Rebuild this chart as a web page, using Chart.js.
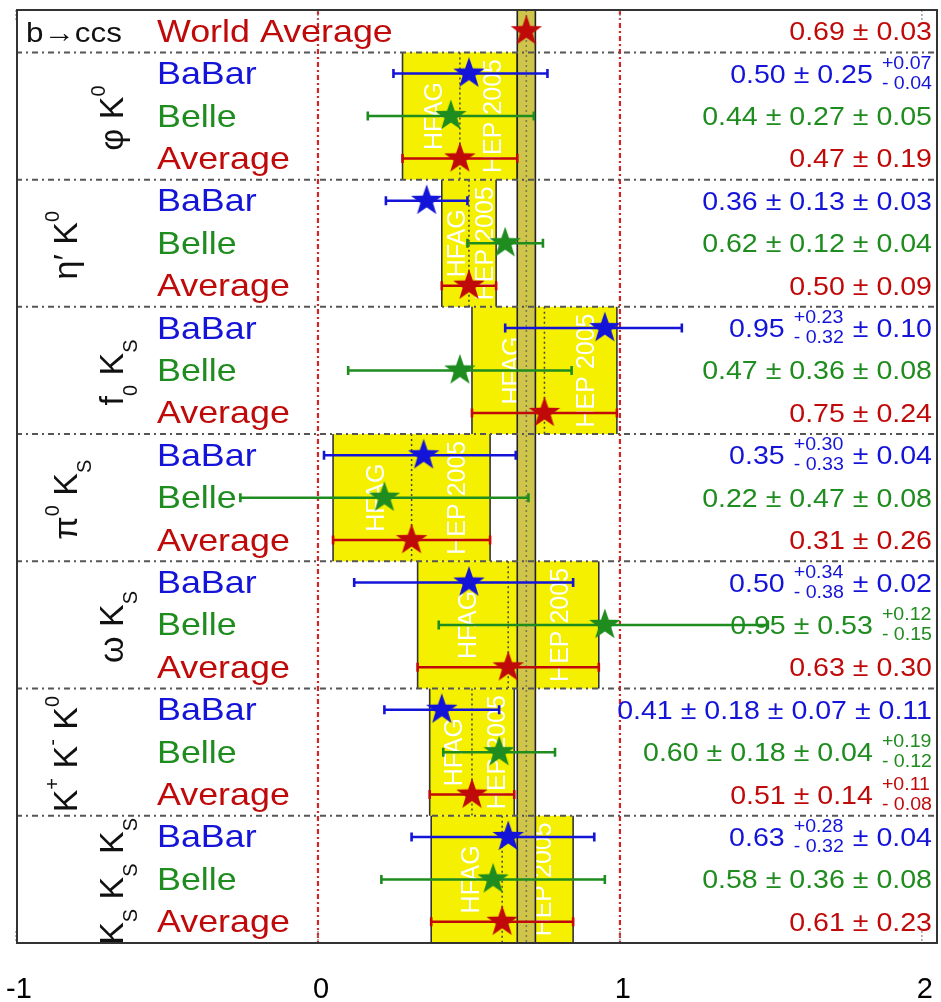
<!DOCTYPE html>
<html>
<head>
<meta charset="utf-8">
<script src="https://cdn.jsdelivr.net/npm/chart.js@4/dist/chart.umd.min.js"></script>
<style>
  html, body { margin: 0; padding: 0; background: #fff; overflow: hidden; }
  canvas { display: block; }
</style>
</head>
<body>
<canvas id="chart" width="941" height="1002"></canvas>
<script>
// rows from top to bottom
const rowLabels = ['World Average',
    'BaBar', 'Belle', 'Average',
    'BaBar', 'Belle', 'Average',
    'BaBar', 'Belle', 'Average',
    'BaBar', 'Belle', 'Average',
    'BaBar', 'Belle', 'Average',
    'BaBar', 'Belle', 'Average',
    'BaBar', 'Belle', 'Average'];
const rowKinds = ['world',
    'babar', 'belle', 'avg',
    'babar', 'belle', 'avg',
    'babar', 'belle', 'avg',
    'babar', 'belle', 'avg',
    'babar', 'belle', 'avg',
    'babar', 'belle', 'avg',
    'babar', 'belle', 'avg'];
const values   = [0.69, 0.50, 0.44, 0.47, 0.36, 0.62, 0.50, 0.95, 0.47, 0.75, 0.35, 0.22, 0.31, 0.50, 0.95, 0.63, 0.41, 0.60, 0.51, 0.63, 0.58, 0.61];
const errMinus = [0.03, 0.25, 0.275, 0.19, 0.135, 0.125, 0.09, 0.33, 0.37, 0.24, 0.33, 0.477, 0.26, 0.38, 0.55, 0.30, 0.19, 0.185, 0.14, 0.32, 0.37, 0.235];
const errPlus  = [0.03, 0.26, 0.275, 0.19, 0.135, 0.125, 0.09, 0.255, 0.37, 0.24, 0.305, 0.477, 0.26, 0.345, 0.54, 0.30, 0.19, 0.185, 0.14, 0.285, 0.37, 0.235];

// decay modes: first row of each group of three
const groupStart = [1, 4, 7, 10, 13, 16, 19];
const modeLabels = [
    [['φ K', ''], ['0', 'sup']],
    [['η′ K', ''], ['0', 'sup']],
    [['f', ''], ['0', 'sub'], [' K', ''], ['S', 'sub']],
    [['π', ''], ['0', 'sup'], [' K', ''], ['S', 'sub']],
    [['ω K', ''], ['S', 'sub']],
    [['K', ''], ['+', 'sup'], [' K', ''], ['-', 'sup'], [' K', ''], ['0', 'sup']],
    [['K', ''], ['S', 'sub'], [' K', ''], ['S', 'sub'], [' K', ''], ['S', 'sub']],
];

const valueTexts = [
    ['0.69 ± 0.03'],
    ['0.50 ± 0.25', ['+0.07', '- 0.04']],
    ['0.44 ± 0.27 ± 0.05'],
    ['0.47 ± 0.19'],
    ['0.36 ± 0.13 ± 0.03'],
    ['0.62 ± 0.12 ± 0.04'],
    ['0.50 ± 0.09'],
    ['0.95', ['+0.23', '- 0.32'], '± 0.10'],
    ['0.47 ± 0.36 ± 0.08'],
    ['0.75 ± 0.24'],
    ['0.35', ['+0.30', '- 0.33'], '± 0.04'],
    ['0.22 ± 0.47 ± 0.08'],
    ['0.31 ± 0.26'],
    ['0.50', ['+0.34', '- 0.38'], '± 0.02'],
    ['0.95 ± 0.53', ['+0.12', '- 0.15']],
    ['0.63 ± 0.30'],
    ['0.41 ± 0.18 ± 0.07 ± 0.11'],
    ['0.60 ± 0.18 ± 0.04', ['+0.19', '- 0.12']],
    ['0.51 ± 0.14', ['+0.11', '- 0.08']],
    ['0.63', ['+0.28', '- 0.32'], '± 0.04'],
    ['0.58 ± 0.36 ± 0.08'],
    ['0.61 ± 0.23'],
];
const tickValues = [-1, 0, 1, 2];
const refLines = [0, 1];

const colors = { world: '#c00a0a', babar: '#1414d8', belle: '#1e8c1e', avg: '#c00a0a' };
const FONT = '"Liberation Sans", Arial, Helvetica, sans-serif';
const SX = 1.12; // horizontal text stretch
const modeLabelX = [123, 77, 123, 77, 123, 77, 123];

function starImage(color) {
    const c = document.createElement('canvas');
    c.width = c.height = 36;
    const g = c.getContext('2d');
    g.beginPath();
    for (let k = 0; k < 10; k++) {
        const r = k % 2 ? 6.6 : 16.5;
        const ang = -Math.PI / 2 + k * Math.PI / 5;
        g.lineTo(18 + r * Math.cos(ang), 18 + r * Math.sin(ang));
    }
    g.closePath();
    g.fillStyle = color;
    g.fill();
    return c;
}

function hText(ctx, str, x, y, size, color) {
    ctx.save();
    ctx.font = `${size}px ${FONT}`;
    ctx.fillStyle = color;
    ctx.textBaseline = 'alphabetic';
    ctx.textAlign = 'left';
    ctx.translate(x, y);
    ctx.scale(SX, 1);
    ctx.fillText(str, 0, 0);
    ctx.restore();
}

function textWidth(ctx, str, size) {
    ctx.font = `${size}px ${FONT}`;
    return ctx.measureText(str).width * SX;
}

function drawValue(ctx, parts, right, cy, color) {
    const big = 25.5, small = 17.5, gap = 9;
    let xr = right;
    for (let p = parts.length - 1; p >= 0; p--) {
        const part = parts[p];
        if (typeof part === 'string') {
            const w = textWidth(ctx, part, big);
            hText(ctx, part, xr - w, cy + 9, big, color);
            xr -= w + gap;
        } else {
            const w = Math.max(textWidth(ctx, part[0], small), textWidth(ctx, part[1], small));
            hText(ctx, part[0], xr - w, cy - 5, small, color);
            hText(ctx, part[1], xr - w, cy + 15, small, color);
            xr -= w + gap;
        }
    }
}

function drawModeLabel(ctx, parts, xBase, cy) {
    const big = 34, small = 20;
    ctx.save();
    ctx.fillStyle = '#111';
    ctx.textBaseline = 'alphabetic';
    ctx.textAlign = 'left';
    let len = 0;
    parts.forEach(([t, kind]) => {
        ctx.font = `${kind ? small : big}px ${FONT}`;
        len += ctx.measureText(t).width;
    });
    ctx.translate(xBase, cy);
    ctx.rotate(-Math.PI / 2);
    let pos = -len / 2;
    parts.forEach(([t, kind]) => {
        ctx.font = `${kind ? small : big}px ${FONT}`;
        const dy = kind === 'sup' ? -18 : kind === 'sub' ? 14 : 0;
        ctx.fillText(t, pos, dy);
        pos += ctx.measureText(t).width;
    });
    ctx.restore();
}

function vLine(ctx, x, y0, y1, color, width, dash) {
    ctx.save();
    ctx.strokeStyle = color;
    ctx.lineWidth = width;
    ctx.setLineDash(dash || []);
    ctx.beginPath();
    ctx.moveTo(x, y0);
    ctx.lineTo(x, y1);
    ctx.stroke();
    ctx.restore();
}

const backgroundPlugin = {
    id: 'hfagBackground',
    beforeDatasetsDraw(chart) {
        const { ctx, chartArea: a, scales: { x, y } } = chart;

        refLines.forEach((v) => vLine(ctx, x.getPixelForValue(v), a.top, a.bottom, '#d42424', 2.2, [5, 3, 2, 3]));
        tickValues.forEach((v) => {
            const px = x.getPixelForValue(v);
            vLine(ctx, px, a.top, a.top + 12, '#888', 1.2, [2, 2]);
            vLine(ctx, px, a.bottom - 12, a.bottom, '#888', 1.2, [2, 2]);
        });

        // per-mode average boxes
        groupStart.forEach((s) => {
            const ai = s + 2;
            const x0 = x.getPixelForValue(values[ai] - errMinus[ai]);
            const x1 = x.getPixelForValue(values[ai] + errPlus[ai]);
            const y0 = y.getPixelForValue(s);
            const y1 = y.getPixelForValue(s + 3);
            ctx.save();
            ctx.fillStyle = '#f4f000';
            ctx.fillRect(x0, y0, x1 - x0, y1 - y0);
            ctx.beginPath();
            ctx.rect(x0, y0, x1 - x0, y1 - y0);
            ctx.clip();
            ctx.fillStyle = '#ffffff';
            ctx.font = `25px ${FONT}`;
            ctx.textAlign = 'center';
            ctx.textBaseline = 'alphabetic';
            [['HFAG', 0.27], ['HEP 2005', 0.78]].forEach(([t, f]) => {
                ctx.save();
                ctx.translate(x0 + f * (x1 - x0), (y0 + y1) / 2);
                ctx.rotate(-Math.PI / 2);
                ctx.fillText(t, 0, 9);
                ctx.restore();
            });
            ctx.restore();
            vLine(ctx, x.getPixelForValue(values[ai]), y0, y1, '#444', 1.5, [2, 3]);
            vLine(ctx, x0, y0, y1, '#333', 1.6);
            vLine(ctx, x1, y0, y1, '#333', 1.6);
        });

        // world average band
        const b0 = x.getPixelForValue(values[0] - errMinus[0]);
        const b1 = x.getPixelForValue(values[0] + errPlus[0]);
        ctx.save();
        ctx.fillStyle = '#cfc54a';
        ctx.fillRect(b0, a.top, b1 - b0, a.bottom - a.top);
        ctx.restore();
        vLine(ctx, x.getPixelForValue(values[0]), a.top, a.bottom, '#7a7a50', 1.5, [2, 3]);
        vLine(ctx, b0, a.top, a.bottom, '#222', 1.6);
        vLine(ctx, b1, a.top, a.bottom, '#222', 1.6);

        // separators between modes
        ctx.save();
        ctx.strokeStyle = '#555';
        ctx.lineWidth = 2;
        ctx.setLineDash([6, 4, 2, 4]);
        groupStart.forEach((s) => {
            const py = y.getPixelForValue(s);
            ctx.beginPath();
            ctx.moveTo(a.left, py);
            ctx.lineTo(a.right, py);
            ctx.stroke();
        });
        ctx.restore();

        // error bars
        values.forEach((v, i) => {
            if (rowKinds[i] === 'world') return;
            const py = y.getPixelForValue(i + 0.5);
            const xl = x.getPixelForValue(v - errMinus[i]);
            const xr = x.getPixelForValue(v + errPlus[i]);
            ctx.save();
            ctx.strokeStyle = colors[rowKinds[i]];
            ctx.lineWidth = 2.5;
            ctx.beginPath();
            ctx.moveTo(xl, py);
            ctx.lineTo(xr, py);
            ctx.stroke();
            ctx.lineWidth = 2.6;
            ctx.beginPath();
            ctx.moveTo(xl, py - 4.5);
            ctx.lineTo(xl, py + 4.5);
            ctx.moveTo(xr, py - 4.5);
            ctx.lineTo(xr, py + 4.5);
            ctx.stroke();
            ctx.restore();
        });

        // frame
        ctx.save();
        ctx.strokeStyle = '#333';
        ctx.lineWidth = 2;
        ctx.strokeRect(a.left + 1, a.top, a.right - a.left - 1, a.bottom - a.top);
        ctx.restore();
    },
    afterDatasetsDraw(chart) {
        const { ctx, chartArea: a, scales: { x, y } } = chart;
        hText(ctx, 'b→ccs', 26, y.getPixelForValue(0.5) + 11, 28, '#111');
        rowLabels.forEach((label, i) => {
            const cy = y.getPixelForValue(i + 0.5);
            hText(ctx, label, 157, cy + 10.5, 32, colors[rowKinds[i]]);
            drawValue(ctx, valueTexts[i], a.right - 5, cy, colors[rowKinds[i]]);
        });
        modeLabels.forEach((parts, g) => {
            const cy = (y.getPixelForValue(groupStart[g]) + y.getPixelForValue(groupStart[g] + 3)) / 2 + 2;
            drawModeLabel(ctx, parts, modeLabelX[g], cy);
        });
        // x tick labels
        ctx.save();
        ctx.font = `29px ${FONT}`;
        ctx.fillStyle = '#000';
        ctx.textAlign = 'center';
        ctx.textBaseline = 'alphabetic';
        tickValues.forEach((v) => {
            const px = Math.max(x.getPixelForValue(v) + 3, 14);
            ctx.fillText(String(v), px, a.bottom + 55);
        });
        ctx.restore();
    },
};

function pointsOf(kind) {
    return values
        .map((v, i) => ({ x: v, y: i + 0.5, kind: rowKinds[i] }))
        .filter((p) => p.kind === kind)
        .map(({ x, y }) => ({ x, y }));
}

const datasets = ['world', 'babar', 'belle', 'avg'].map((kind) => ({
    label: kind,
    data: pointsOf(kind),
    pointStyle: starImage(colors[kind]),
    pointRadius: 16,
    pointHoverRadius: 16,
    showLine: false,
}));

new Chart(document.getElementById('chart'), {
    type: 'scatter',
    data: { datasets },
    options: {
        responsive: false,
        animation: false,
        devicePixelRatio: 1,
        layout: { autoPadding: false, padding: { top: 10, left: 16, right: 4, bottom: 0 } },
        plugins: { legend: { display: false }, tooltip: { enabled: false } },
        scales: {
            x: {
                type: 'linear',
                min: -1,
                max: 2.05,
                grid: { display: false, drawTicks: false },
                border: { display: false },
                afterBuildTicks: (axis) => { axis.ticks = tickValues.map((v) => ({ value: v })); },
                afterFit: (axis) => { axis.height = 59; },
                ticks: { display: false },
            },
            y: {
                type: 'linear',
                min: 0,
                max: 22,
                reverse: true,
                display: false,
            },
        },
    },
    plugins: [backgroundPlugin],
});
</script>
</body>
</html>
